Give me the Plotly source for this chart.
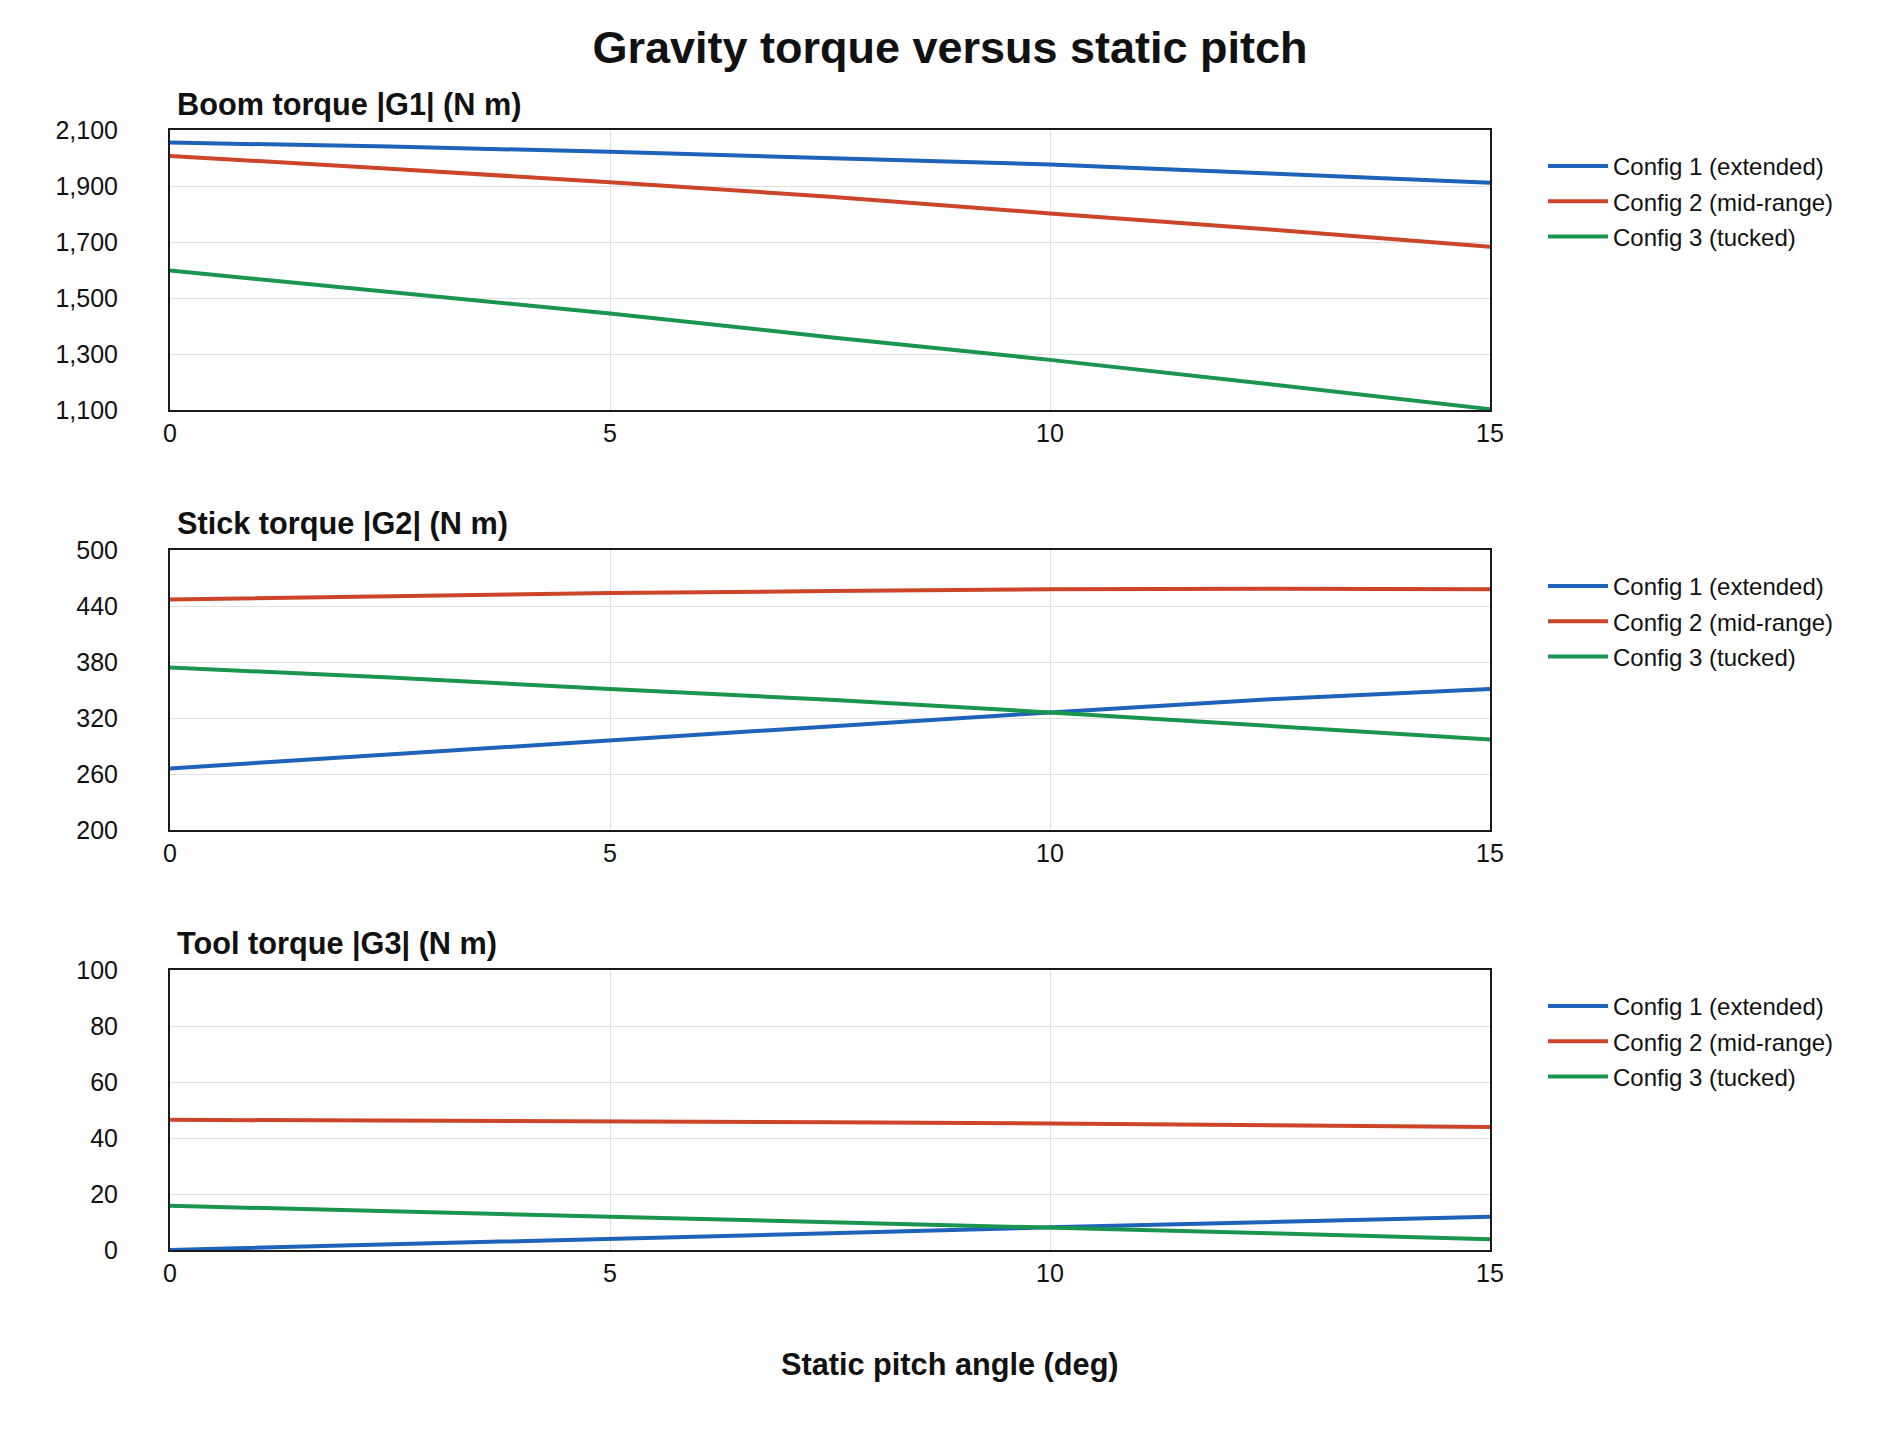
import plotly.graph_objects as go

# ---------------- data ----------------
pitch_deg = [0, 2.5, 5, 7.5, 10, 12.5, 15]

series_names = ["Config 1 (extended)", "Config 2 (mid-range)", "Config 3 (tucked)"]
series_colors = ["#1f62ba", "#cc4429", "#1a9550"]

g1_config1 = [2055, 2041, 2022, 2001, 1977, 1945, 1912]
g1_config2 = [2007, 1962, 1913, 1862, 1802, 1745, 1683]
g1_config3 = [1598, 1522, 1445, 1360, 1279, 1192, 1103]

g2_config1 = [266, 281, 297, 311, 326, 340, 351]
g2_config2 = [447, 451, 454, 456, 458, 458.5, 458]
g2_config3 = [374, 363.5, 351, 339.5, 326, 311, 297]

g3_config1 = [0.0, 1.9, 3.8, 6.0, 8.1, 10.0, 11.9]
g3_config2 = [46.5, 46.3, 46.0, 45.6, 45.2, 44.6, 43.9]
g3_config3 = [15.8, 13.9, 11.9, 10.0, 8.1, 6.0, 3.8]

panel_titles = ["Boom torque |G1| (N m)", "Stick torque |G2| (N m)", "Tool torque |G3| (N m)"]
y_ranges = [[1100, 2100], [200, 500], [0, 100]]
y_dticks = [200, 60, 20]
x_ticks = [0, 5, 10, 15]

main_title = "Gravity torque versus static pitch"
x_title = "Static pitch angle (deg)"

panels = [
    [g1_config1, g1_config2, g1_config3],
    [g2_config1, g2_config2, g2_config3],
    [g3_config1, g3_config2, g3_config3],
]

# ---------------- layout geometry (pixels) ----------------
W, H = 1900, 1450
plot_left, plot_right = 170, 1490
plot_tops = [130, 550, 970]
plot_h = 280
FONT = "Liberation Sans, Arial, sans-serif"


def py(px):
    return 1 - px / H


fig = go.Figure()
layout_extra = {}
annotations = []

for i, (ser, title) in enumerate(zip(panels, panel_titles)):
    n = "" if i == 0 else str(i + 1)
    xa, ya = "x" + n, "y" + n
    leg = "legend" + n
    for j, (name, color, vals) in enumerate(zip(series_names, series_colors, ser)):
        fig.add_trace(go.Scatter(
            x=pitch_deg, y=vals, mode="lines", name=name,
            line=dict(color=color, width=4),
            xaxis=xa, yaxis=ya, legend=leg,
            legendgroup="p%d_s%d" % (i, j),
        ))
    top = plot_tops[i]
    bottom = top + plot_h
    layout_extra["xaxis" + n] = dict(
        domain=[plot_left / W, plot_right / W], anchor=ya,
        range=[0, 15], tickvals=x_ticks,
        showgrid=True, gridcolor="#e0e0e0", gridwidth=1,
        showline=True, mirror=True, linecolor="#1a1a1a", linewidth=2,
        zeroline=False, ticks="", ticklabelstandoff=0,
        tickfont=dict(size=25, color="#111", family=FONT),
    )
    layout_extra["yaxis" + n] = dict(
        domain=[py(bottom), py(top)], anchor=xa,
        range=y_ranges[i], dtick=y_dticks[i], tick0=y_ranges[i][0],
        tickformat=",d",
        showgrid=True, gridcolor="#e0e0e0", gridwidth=1,
        showline=True, mirror=True, linecolor="#1a1a1a", linewidth=2,
        zeroline=False, ticks="", ticklabelstandoff=45,
        tickfont=dict(size=25, color="#111", family=FONT),
    )
    layout_extra[leg] = dict(
        x=1543 / W, xanchor="left", y=py(top + 14), yanchor="top",
        font=dict(size=24, color="#111", family=FONT),
        itemwidth=60, bgcolor="rgba(0,0,0,0)", borderwidth=0,
        traceorder="grouped", tracegroupgap=1,
    )
    annotations.append(dict(
        text="<b>" + title + "</b>", x=175 / W, y=py(top - 26),
        xref="paper", yref="paper", xanchor="left", yanchor="middle",
        showarrow=False, font=dict(size=30.7, color="#111", family=FONT),
    ))

annotations.append(dict(
    text="<b>" + x_title + "</b>", x=0.5, y=py(1364),
    xref="paper", yref="paper", xanchor="center", yanchor="middle",
    showarrow=False, font=dict(size=30.7, color="#111", family=FONT),
))

fig.update_layout(
    width=W, height=H,
    margin=dict(l=0, r=0, t=0, b=0, autoexpand=False),
    paper_bgcolor="white", plot_bgcolor="white",
    title=dict(text="<b>" + main_title + "</b>", x=0.5, xanchor="center",
               y=py(47), yanchor="middle",
               font=dict(size=45, color="#111", family=FONT)),
    annotations=annotations,
    showlegend=True,
    **layout_extra,
)

fig.write_html("out.html")
